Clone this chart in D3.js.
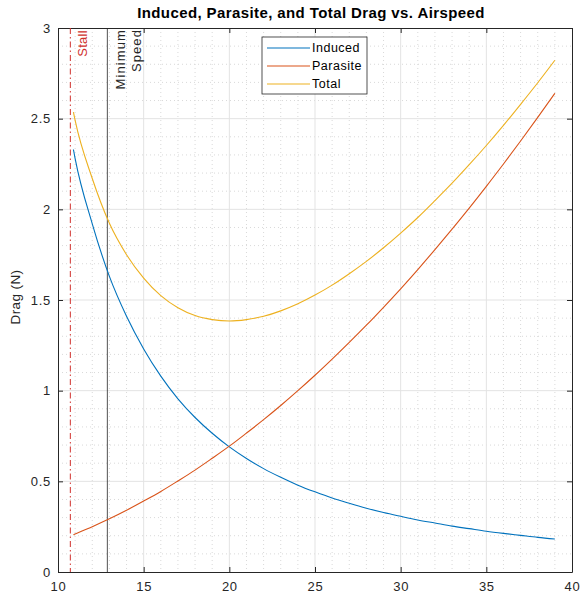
<!DOCTYPE html>
<html>
<head>
<meta charset="utf-8">
<script src="https://cdn.jsdelivr.net/npm/d3@7"></script>
<style>
  body { margin: 0; background: #fff; }
  text { font-family: "Liberation Sans", Arial, sans-serif; }
</style>
</head>
<body>
<div id="chart"></div>
<script>
// airspeed samples (m/s) and drag values
var airspeed = [10.9, 11, 12, 13, 14, 15, 16, 17, 18, 19, 20, 21, 22, 23, 24, 25,
                26, 27, 28, 29, 30, 31, 32, 33, 34, 35, 36, 37, 38, 39];
var induced = [2.33, 2.28, 1.92, 1.63, 1.41, 1.23, 1.08, 0.955, 0.852, 0.765, 0.69, 0.626,
               0.57, 0.522, 0.479, 0.442, 0.408, 0.379, 0.352, 0.328, 0.307, 0.287, 0.27,
               0.253, 0.239, 0.225, 0.213, 0.202, 0.191, 0.182];
var parasite = [0.206, 0.21, 0.25, 0.293, 0.34, 0.391, 0.444, 0.502, 0.562, 0.627, 0.694,
                0.766, 0.84, 0.918, 1.0, 1.085, 1.174, 1.266, 1.361, 1.46, 1.562, 1.668,
                1.778, 1.891, 2.007, 2.127, 2.25, 2.377, 2.507, 2.64];
var total = [2.536, 2.49, 2.17, 1.923, 1.75, 1.621, 1.524, 1.457, 1.414, 1.392, 1.384,
             1.392, 1.41, 1.44, 1.479, 1.527, 1.582, 1.645, 1.713, 1.788, 1.869, 1.955,
             2.048, 2.144, 2.246, 2.352, 2.463, 2.579, 2.698, 2.822];
var seriesNames = ["Induced", "Parasite", "Total"];
var xTicks = [10, 15, 20, 25, 30, 35, 40];
var yTicks = [0, 0.5, 1, 1.5, 2, 2.5, 3];
var stallSpeed = 10.72;
var minSpeed = 12.88;

// SETUP
var margin = {top: 28, right: 8, bottom: 31, left: 58},
    width = 580 - margin.left - margin.right,
    height = 603 - margin.top - margin.bottom;

var colors = ["#0072BD", "#D95319", "#EDB120"];

var svg = d3.select("#chart").append("svg")
    .attr("width", 580)
    .attr("height", 603);

var g = svg.append("g")
    .attr("transform", "translate(" + margin.left + "," + margin.top + ")");

var x = d3.scaleLinear().domain([10, 40]).range([0, width]);
var y = d3.scaleLinear().domain([0, 3]).range([height, 0]);

// minor grid (dotted)
g.append("g").selectAll("line")
    .data(d3.range(11, 40).filter(function(d) { return d % 5 !== 0; }))
  .enter().append("line")
    .attr("x1", function(d) { return x(d); }).attr("x2", function(d) { return x(d); })
    .attr("y1", 0).attr("y2", height)
    .attr("stroke", "#d9d9d9").attr("stroke-dasharray", "1,3");

g.append("g").selectAll("line")
    .data(d3.range(1, 30).filter(function(d) { return d % 5 !== 0; }).map(function(d) { return d / 10; }))
  .enter().append("line")
    .attr("y1", function(d) { return y(d); }).attr("y2", function(d) { return y(d); })
    .attr("x1", 0).attr("x2", width)
    .attr("stroke", "#d9d9d9").attr("stroke-dasharray", "1,3");

// major grid
g.append("g").selectAll("line")
    .data(xTicks.slice(1, -1))
  .enter().append("line")
    .attr("x1", function(d) { return x(d); }).attr("x2", function(d) { return x(d); })
    .attr("y1", 0).attr("y2", height)
    .attr("stroke", "#e3e3e3");

g.append("g").selectAll("line")
    .data(yTicks.slice(1, -1))
  .enter().append("line")
    .attr("y1", function(d) { return y(d); }).attr("y2", function(d) { return y(d); })
    .attr("x1", 0).attr("x2", width)
    .attr("stroke", "#e3e3e3");

// axes
g.append("g")
    .attr("transform", "translate(0," + height + ")")
    .call(d3.axisBottom(x).tickValues(xTicks).tickSizeInner(-5).tickSizeOuter(0).tickPadding(10));
g.append("g")
    .call(d3.axisLeft(y).tickValues(yTicks).tickSizeInner(-5).tickSizeOuter(0).tickPadding(7)
      .tickFormat(function(d) { return d; }));
g.append("g")
    .call(d3.axisTop(x).tickValues(xTicks).tickSizeInner(-5).tickSizeOuter(0).tickFormat(""));
g.append("g")
    .attr("transform", "translate(" + width + ",0)")
    .call(d3.axisRight(y).tickValues(yTicks).tickSizeInner(-5).tickSizeOuter(0).tickFormat(""));

g.selectAll(".domain").attr("stroke", "#262626");
g.selectAll(".tick line").attr("stroke", "#262626");
g.selectAll(".tick text").attr("fill", "#262626")
    .style("font-size", "13px").style("letter-spacing", "0.7px");

// stall and minimum speed lines
g.append("line")
    .attr("x1", x(stallSpeed)).attr("x2", x(stallSpeed))
    .attr("y1", 0).attr("y2", height)
    .attr("stroke", "#d0312d").attr("stroke-dasharray", "6,3,1.5,3");
g.append("line")
    .attr("x1", x(minSpeed)).attr("x2", x(minSpeed))
    .attr("y1", 0).attr("y2", height)
    .attr("stroke", "#262626").attr("stroke-width", 0.8);

g.append("text")
    .attr("transform", "translate(" + (x(stallSpeed) + 17) + ",2) rotate(-90)")
    .attr("text-anchor", "end")
    .attr("fill", "#d0312d")
    .style("font-size", "13px").style("letter-spacing", "0.3px")
    .text("Stall");

var ms = g.append("text")
    .attr("transform", "translate(" + (x(minSpeed) + 18) + ",1) rotate(-90)")
    .attr("text-anchor", "end")
    .attr("fill", "#262626")
    .style("font-size", "13px").style("letter-spacing", "1.1px");
ms.append("tspan").attr("x", 0).attr("dy", 0).text("Minimum");
ms.append("tspan").attr("x", 0).attr("dy", 16).text("Speed");

// curves
var data = [induced, parasite, total];
var line = d3.line()
    .x(function(d, i) { return x(airspeed[i]); })
    .y(function(d) { return y(d); })
    .curve(d3.curveMonotoneX);

g.selectAll(".curve")
    .data(data)
  .enter().append("path")
    .attr("class", "curve")
    .attr("d", line)
    .attr("fill", "none")
    .attr("stroke", function(d, i) { return colors[i]; })
    .attr("stroke-width", 1.1);

// legend
var legend = svg.append("g").attr("transform", "translate(262,37)");
legend.append("rect")
    .attr("width", 105).attr("height", 57)
    .attr("fill", "#fff").attr("stroke", "#262626").attr("stroke-width", 0.8);
seriesNames.forEach(function(name, i) {
  var row = legend.append("g").attr("transform", "translate(0," + (11 + i * 18) + ")");
  row.append("line").attr("x1", 5).attr("x2", 48)
      .attr("stroke", colors[i]).attr("stroke-width", 1.1);
  row.append("text").attr("x", 50).attr("dy", "0.35em")
      .attr("fill", "#000").style("font-size", "12.5px").style("letter-spacing", "0.5px")
      .text(name);
});

// title and label
svg.append("text")
    .attr("x", margin.left + width / 2 - 4).attr("y", 18)
    .attr("text-anchor", "middle")
    .style("font-size", "15px").style("font-weight", "bold").style("letter-spacing", "0.4px")
    .attr("fill", "#000")
    .text("Induced, Parasite, and Total Drag vs. Airspeed");

svg.append("text")
    .attr("transform", "translate(20," + (margin.top + height / 2 - 3) + ") rotate(-90)")
    .attr("text-anchor", "middle")
    .style("font-size", "13.5px").style("letter-spacing", "0.4px")
    .attr("fill", "#262626")
    .text("Drag (N)");
</script>
</body>
</html>
